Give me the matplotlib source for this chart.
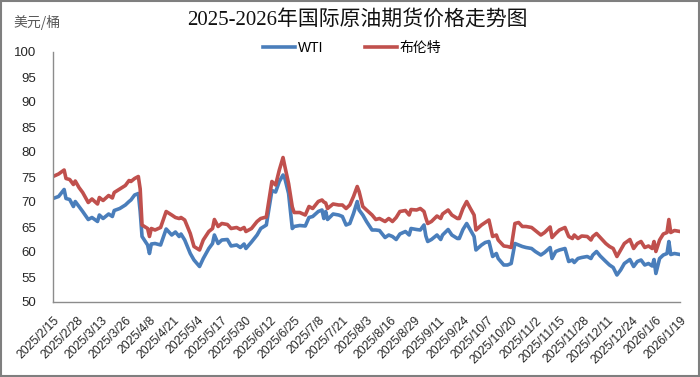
import matplotlib
matplotlib.use("Agg")
import matplotlib.pyplot as plt
import matplotlib.patches as patches
import pandas as pd
import numpy as np

dates = [
    "2025-02-15", "2025-02-18", "2025-02-21", "2025-02-22", "2025-02-24", "2025-02-26", "2025-02-27",
    "2025-03-01", "2025-03-03", "2025-03-06", "2025-03-08", "2025-03-11", "2025-03-12", "2025-03-14",
    "2025-03-17", "2025-03-19", "2025-03-20", "2025-03-23", "2025-03-26", "2025-03-28", "2025-03-29",
    "2025-03-31", "2025-04-02", "2025-04-03", "2025-04-04", "2025-04-07", "2025-04-08", "2025-04-09",
    "2025-04-11", "2025-04-14", "2025-04-17", "2025-04-20", "2025-04-22", "2025-04-24", "2025-04-25",
    "2025-04-27", "2025-04-30", "2025-05-02", "2025-05-05", "2025-05-07", "2025-05-10", "2025-05-12",
    "2025-05-13", "2025-05-15", "2025-05-17", "2025-05-20", "2025-05-22", "2025-05-25", "2025-05-27",
    "2025-05-29", "2025-05-30", "2025-06-02", "2025-06-05", "2025-06-07", "2025-06-10", "2025-06-11",
    "2025-06-13", "2025-06-15", "2025-06-17", "2025-06-19", "2025-06-20", "2025-06-22", "2025-06-24",
    "2025-06-25", "2025-06-28", "2025-07-01", "2025-07-03", "2025-07-05", "2025-07-08", "2025-07-10",
    "2025-07-11", "2025-07-12", "2025-07-13", "2025-07-16", "2025-07-19", "2025-07-21", "2025-07-23",
    "2025-07-25", "2025-07-27", "2025-07-29", "2025-07-30", "2025-08-01", "2025-08-03", "2025-08-06",
    "2025-08-08", "2025-08-10", "2025-08-13", "2025-08-15", "2025-08-17", "2025-08-19", "2025-08-21",
    "2025-08-24", "2025-08-26", "2025-08-27", "2025-08-30", "2025-09-01", "2025-09-03", "2025-09-04",
    "2025-09-05", "2025-09-07", "2025-09-10", "2025-09-12", "2025-09-13", "2025-09-16", "2025-09-18",
    "2025-09-21", "2025-09-22", "2025-09-24", "2025-09-26", "2025-09-28", "2025-09-30", "2025-10-01",
    "2025-10-04", "2025-10-06", "2025-10-08", "2025-10-10", "2025-10-12", "2025-10-13", "2025-10-16",
    "2025-10-18", "2025-10-20", "2025-10-22", "2025-10-24", "2025-10-26", "2025-10-28", "2025-10-31",
    "2025-11-02", "2025-11-05", "2025-11-07", "2025-11-10", "2025-11-11", "2025-11-13", "2025-11-15",
    "2025-11-18", "2025-11-20", "2025-11-22", "2025-11-23", "2025-11-25", "2025-11-27", "2025-11-30",
    "2025-12-02", "2025-12-03", "2025-12-05", "2025-12-07", "2025-12-10", "2025-12-12", "2025-12-14",
    "2025-12-16", "2025-12-18", "2025-12-20", "2025-12-23", "2025-12-25", "2025-12-27", "2025-12-29",
    "2025-12-31", "2026-01-02", "2026-01-04", "2026-01-05", "2026-01-06", "2026-01-08", "2026-01-10",
    "2026-01-12", "2026-01-13", "2026-01-14", "2026-01-16", "2026-01-19",
]

brent = [
    75.1, 75.6, 76.4, 74.7, 74.5, 73.5, 74.2,
    72.9, 71.9, 69.9, 70.6, 69.6, 70.9, 70.3,
    71.3, 70.8, 71.9, 72.6, 73.3, 74.3, 74.1,
    74.7, 75.1, 72.6, 65.4, 64.7, 63.1, 64.7,
    64.4, 64.9, 68.1, 67.4, 66.9, 66.7, 66.9,
    66.4, 63.7, 61.1, 60.4, 62.4, 64.1, 64.7,
    66.5, 65.1, 65.7, 65.5, 64.7, 64.9, 64.5,
    64.9, 64.1, 64.7, 66.1, 66.7, 67.0, 69.4,
    74.1, 73.4, 76.4, 78.9, 77.1, 73.7, 69.0,
    67.9, 67.9, 67.4, 69.1, 68.7, 70.1, 70.4,
    70.0, 69.8, 68.7, 69.6, 69.4, 69.4, 68.7,
    69.4, 71.1, 73.1, 72.1, 69.1, 68.4, 67.4,
    66.5, 66.7, 66.1, 66.7, 66.1, 66.9, 68.1,
    68.3, 67.4, 68.5, 68.4, 68.7, 68.1, 66.8,
    65.7, 66.1, 67.2, 66.7, 67.6, 68.4, 67.4,
    66.7, 66.7, 68.7, 70.1, 68.7, 67.4, 64.4,
    65.4, 65.9, 66.4, 63.1, 63.4, 62.4, 61.2,
    61.1, 60.9, 65.7, 65.9, 65.1, 65.1, 64.9,
    64.3, 63.4, 63.9, 65.0, 62.9, 63.7, 64.4,
    64.9, 63.1, 62.7, 63.4, 62.7, 63.2, 63.1,
    62.4, 63.1, 63.7, 62.9, 61.7, 61.1, 60.7,
    59.1, 60.4, 61.7, 62.5, 60.7, 61.7, 62.1,
    60.9, 61.2, 60.7, 62.1, 60.1, 62.4, 63.6,
    63.9, 66.5, 63.9, 64.3, 64.1,
]

wti = [
    70.7, 71.1, 72.5, 70.7, 70.5, 69.1, 70.1,
    69.1, 68.1, 66.5, 66.9, 66.1, 67.4, 66.7,
    67.6, 67.1, 68.3, 68.7, 69.4, 70.1, 70.4,
    71.4, 71.7, 68.1, 63.1, 61.4, 59.7, 61.6,
    61.7, 61.4, 64.6, 63.4, 64.0, 63.1, 63.6,
    62.4, 59.7, 58.4, 57.1, 58.7, 60.7, 61.7,
    63.4, 61.7, 62.4, 62.5, 61.2, 61.4, 60.9,
    61.6, 60.7, 62.0, 63.4, 64.7, 65.4, 67.7,
    72.3, 72.0, 74.1, 75.4, 74.7, 71.7, 64.7,
    65.1, 65.3, 65.2, 66.9, 67.1, 68.1, 68.4,
    66.7, 68.1, 66.5, 67.6, 67.4, 67.1, 65.4,
    65.7, 67.7, 70.1, 68.4, 67.4, 66.1, 64.4,
    64.4, 64.3, 62.9, 63.4, 63.1, 62.5, 63.6,
    64.1, 63.4, 64.7, 64.5, 64.4, 65.4, 63.2,
    62.1, 62.5, 63.4, 62.5, 63.4, 64.5, 63.4,
    62.7, 62.7, 64.5, 65.7, 64.4, 63.1, 60.4,
    61.4, 61.9, 62.1, 59.1, 59.7, 58.7, 57.4,
    57.4, 57.7, 61.7, 61.4, 61.1, 60.9, 60.7,
    60.1, 59.4, 59.9, 60.9, 58.7, 60.1, 60.4,
    60.7, 58.1, 58.4, 57.9, 58.7, 58.9, 59.1,
    58.7, 59.4, 60.1, 59.2, 58.1, 57.4, 56.9,
    55.4, 56.4, 57.7, 58.5, 57.1, 58.1, 58.4,
    57.4, 57.7, 57.2, 58.5, 55.7, 58.7, 59.4,
    59.7, 62.1, 59.5, 59.7, 59.5,
]

tick_labels = [
    "2025/2/15", "2025/2/28", "2025/3/13", "2025/3/26", "2025/4/8", "2025/4/21",
    "2025/5/4", "2025/5/17", "2025/5/30", "2025/6/12", "2025/6/25", "2025/7/8",
    "2025/7/21", "2025/8/3", "2025/8/16", "2025/8/29", "2025/9/11", "2025/9/24",
    "2025/10/7", "2025/10/20", "2025/11/2", "2025/11/15", "2025/11/28", "2025/12/11",
    "2025/12/24", "2026/1/6", "2026/1/19",
]
y_ticks = [50, 55, 60, 65, 70, 75, 80, 85, 90, 95, 100]

title = "2025-2026年国际原油期货价格走势图"
unit_label = "美元/桶"
series_names = ["WTI", "布伦特"]

BLUE = "#4a7ebb"
RED = "#c0504d"

x = pd.to_datetime(dates)
xt = pd.to_datetime(tick_labels, format="%Y/%m/%d")

fig = plt.figure(figsize=(7.0, 3.77), dpi=100)
ax = fig.add_axes([53 / 700, 75 / 377, 627 / 700, 250 / 377])

l1, = ax.plot(x, wti, color=BLUE, lw=2.6, solid_joinstyle="round", label=series_names[0])
l2, = ax.plot(x, brent, color=RED, lw=2.6, solid_joinstyle="round", label=series_names[1])

ax.set_xlim(xt[0], xt[-1])
ax.set_ylim(50, 100)
ax.set_yticks(y_ticks)
ax.set_yticklabels([str(v) for v in y_ticks], fontsize=9.5, family="Liberation Sans", color="#262626")
ax.set_xticks(xt)
ax.set_xticklabels(tick_labels, rotation=45, ha="right", rotation_mode="anchor",
                   fontsize=8.8, family="Liberation Sans", color="#262626")
ax.tick_params(axis="y", length=0, pad=12)
ax.tick_params(axis="x", length=0, pad=9)

for s in ["top", "right"]:
    ax.spines[s].set_visible(False)
for s in ["left", "bottom"]:
    ax.spines[s].set_color("#8c8c8c")
    ax.spines[s].set_linewidth(1.0)

fig.text(0.51, 1 - 20 / 377, title, ha="center", va="center", fontsize=15,
         family=["Liberation Serif", "Noto Sans CJK SC"], color="#111111")
fig.text(13 / 700, 1 - 22 / 377, unit_label, ha="left", va="center", fontsize=10,
         family=["Noto Sans CJK SC", "DejaVu Sans"], color="#595959")

fig.legend(handles=[l1, l2], loc="center", bbox_to_anchor=(0.503, 1 - 48 / 377), ncol=2,
           frameon=False, handlelength=2.3, handletextpad=0.2, columnspacing=3.0,
           prop={"family": ["Liberation Sans", "Noto Sans CJK SC"], "size": 10})

fig.patches.append(patches.Rectangle((0.002, 0.003), 0.996, 0.994, transform=fig.transFigure,
                                     fill=False, edgecolor="#7f7f7f", linewidth=1.5))

fig.savefig("out.png", dpi=100, facecolor="white")
